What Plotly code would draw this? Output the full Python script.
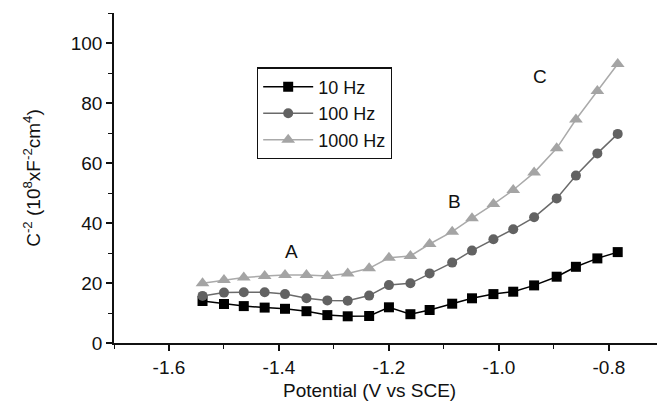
import plotly.graph_objects as go

potential = [-1.539, -1.500, -1.464, -1.426, -1.389, -1.350, -1.312, -1.275, -1.236,
             -1.200, -1.161, -1.126, -1.085, -1.049, -1.010, -0.974, -0.936, -0.895,
             -0.860, -0.821, -0.784]
c10 = [14.0, 13.0, 12.3, 11.8, 11.4, 10.6, 9.3, 8.9, 9.0, 11.9, 9.6, 11.0, 13.1, 14.9,
       16.3, 17.1, 19.2, 22.1, 25.4, 28.2, 30.3]
c100 = [15.7, 16.8, 16.9, 16.9, 16.3, 14.9, 14.2, 14.1, 15.8, 19.3, 19.9, 23.2, 26.8,
        30.8, 34.6, 37.9, 41.9, 48.2, 55.8, 63.2, 69.7]
c1000 = [19.9, 21.0, 21.8, 22.3, 22.7, 22.7, 22.3, 23.2, 24.9, 28.4, 29.0, 33.0, 37.1,
         41.6, 46.3, 51.0, 56.8, 64.9, 74.5, 84.0, 93.0]
series_names = ["10 Hz", "100 Hz", "1000 Hz"]
region_labels = ["A", "B", "C"]
region_x = [-1.377, -1.08, -0.925]
region_y = [30.4, 47.1, 89.0]
x_tick_vals = [-1.6, -1.4, -1.2, -1.0, -0.8]
x_tick_text = ["-1.6", "-1.4", "-1.2", "-1.0", "-0.8"]
x_title = "Potential (V vs SCE)"
y_title = "C<sup>-2</sup> (10<sup>8</sup>xF<sup>-2</sup>cm<sup>4</sup>)"

FONT = "Liberation Sans, Arial, sans-serif"
FS = 19
INK = "#111111"

fig = go.Figure()
styles = [
    dict(color="#000000", symbol="square", size=10, lc="#000000"),
    dict(color="#626262", symbol="circle", size=10, lc="#6a6a6a"),
    dict(color="#a4a4a4", symbol="triangle-up", size=12, lc="#aaaaaa"),
]
for name, ys, st in zip(series_names, [c10, c100, c1000], styles):
    fig.add_trace(go.Scatter(
        x=potential, y=ys, name=name, mode="lines+markers",
        line=dict(color=st["lc"], width=1.5),
        marker=dict(color=st["color"], symbol=st["symbol"], size=st["size"]),
    ))

for t, x, y in zip(region_labels, region_x, region_y):
    fig.add_annotation(x=x, y=y, text=t, showarrow=False,
                       font=dict(size=FS, color=INK, family=FONT))

fig.add_annotation(x=-1.235, xref="x", y=0, yref="paper", yanchor="middle",
                   yshift=-47, text=x_title, showarrow=False,
                   font=dict(size=FS, color=INK, family=FONT))

fig.update_layout(
    width=657, height=398,
    margin=dict(l=106, r=0, t=5, b=63),
    paper_bgcolor="white", plot_bgcolor="white",
    font=dict(family=FONT, size=FS, color=INK),
    showlegend=True,
    legend=dict(x=0.2595, y=0.835, xanchor="left", yanchor="top",
                bordercolor=INK, borderwidth=1.2, bgcolor="white",
                font=dict(size=18, family=FONT, color=INK), tracegroupgap=0,
                itemwidth=50),
    xaxis=dict(range=[-1.7, -0.698], showline=True, linecolor=INK, linewidth=1.5,
               showgrid=False, zeroline=False, ticks="outside", ticklen=6,
               tickwidth=1.5, tickcolor=INK,
               tickvals=x_tick_vals, ticktext=x_tick_text,
               tickfont=dict(size=FS, family=FONT, color=INK),
               minor=dict(ticks="outside", ticklen=4, tickwidth=1.2,
                          tickcolor=INK, dtick=0.1, tick0=-1.6, showgrid=False)),
    yaxis=dict(range=[0, 110], showline=True, linecolor=INK, linewidth=1.5,
               showgrid=False, zeroline=False, ticks="outside", ticklen=6,
               tickwidth=1.5, tickcolor=INK, dtick=20,
               tickfont=dict(size=FS, family=FONT, color=INK),
               minor=dict(ticks="outside", ticklen=4, tickwidth=1.2,
                          tickcolor=INK, dtick=10, showgrid=False),
               title=dict(text=y_title, standoff=25,
                          font=dict(size=FS, family=FONT, color=INK))),
)

fig.write_html("out.html")
